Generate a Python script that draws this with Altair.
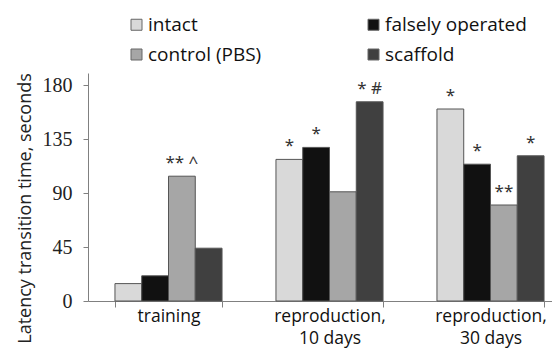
import altair as alt
import pandas as pd

groups = ["training", "reproduction,|10 days", "reproduction,|30 days"]
series = ["intact", "falsely operated", "control (PBS)", "scaffold"]
colors = ["#d9d9d9", "#111111", "#a6a6a6", "#404040"]
training = [14.5, 21, 104, 44]
repro10 = [118, 128, 91, 166]
repro30 = [160, 114, 80, 121]
annot_training = ["", "", "** ^", ""]
annot_repro10 = ["*", "*", "", "* #"]
annot_repro30 = ["*", "*", "**", "*"]
y_ticks = [0, 45, 90, 135, 180]

rows = []
for g, vals, ann in zip(groups, [training, repro10, repro30],
                        [annot_training, annot_repro10, annot_repro30]):
    for s, v, a in zip(series, vals, ann):
        rows.append({"group": g, "series": s, "value": v, "annot": a})
df = pd.DataFrame(rows)

x_enc = alt.X("group:N", sort=groups,
              scale=alt.Scale(range=[0, 483], paddingInner=0.335, paddingOuter=0.1675),
              axis=alt.Axis(title=None, labelAngle=0, tickBand="extent",
                            labelExpr="split(datum.label, '|')",
                            labelFont="Open Sans", labelFontSize=17.5, labelColor="#111",
                            labelLineHeight=22, labelPadding=0,
                            tickSize=6, tickColor="#808080",
                            domainColor="#808080", labelBaseline="top"))
xo_enc = alt.XOffset("series:N", sort=series,
                     scale=alt.Scale(paddingInner=0, paddingOuter=0))
y_enc = alt.Y("value:Q", scale=alt.Scale(domain=[0, 190], nice=False),
              axis=alt.Axis(values=y_ticks, title="Latency transition time, seconds",
                            grid=False, labelFont="Liberation Serif",
                            labelFontSize=20,
                            labelColor="#222", tickSize=5, tickColor="#808080",
                            domainColor="#808080", labelPadding=11,
                            titleFont="Open Sans", titleFontSize=18, titleColor="#222",
                            titleFontWeight="normal", titleX=-63, titleY=135,
                            titleAlign="center", titleBaseline="middle"))

bars = alt.Chart(df).mark_bar(stroke="#555", strokeWidth=1).encode(
    x=x_enc, xOffset=xo_enc, y=y_enc,
    color=alt.Color("series:N", sort=series,
                    scale=alt.Scale(domain=series, range=colors),
                    legend=alt.Legend(title=None, orient="none", legendX=39, legendY=-58,
                                      columns=2, columnPadding=102, rowPadding=10,
                                      symbolType="square", symbolSize=121,
                                      symbolStrokeColor="#666", symbolStrokeWidth=1,
                                      labelFont="Open Sans", labelFontSize=19,
                                      labelColor="#111", labelOffset=2,
                                      direction="horizontal"))
)

text = alt.Chart(df).mark_text(baseline="alphabetic", dy=-8, fontSize=17,
                               font="Noto Sans", color="#333").encode(
    x=x_enc, xOffset=xo_enc, y=y_enc, text="annot:N"
)

chart = alt.layer(bars, text).properties(
    width=464, height=228,
    autosize=alt.AutoSizeParams(type="none"),
    padding={"left": 80, "top": 65, "right": 0, "bottom": 47},
).configure_view(stroke=None).configure_axisY(labelFont="Liberation Serif")

chart.save("out.html", embed_options={"renderer": "svg", "actions": False})
